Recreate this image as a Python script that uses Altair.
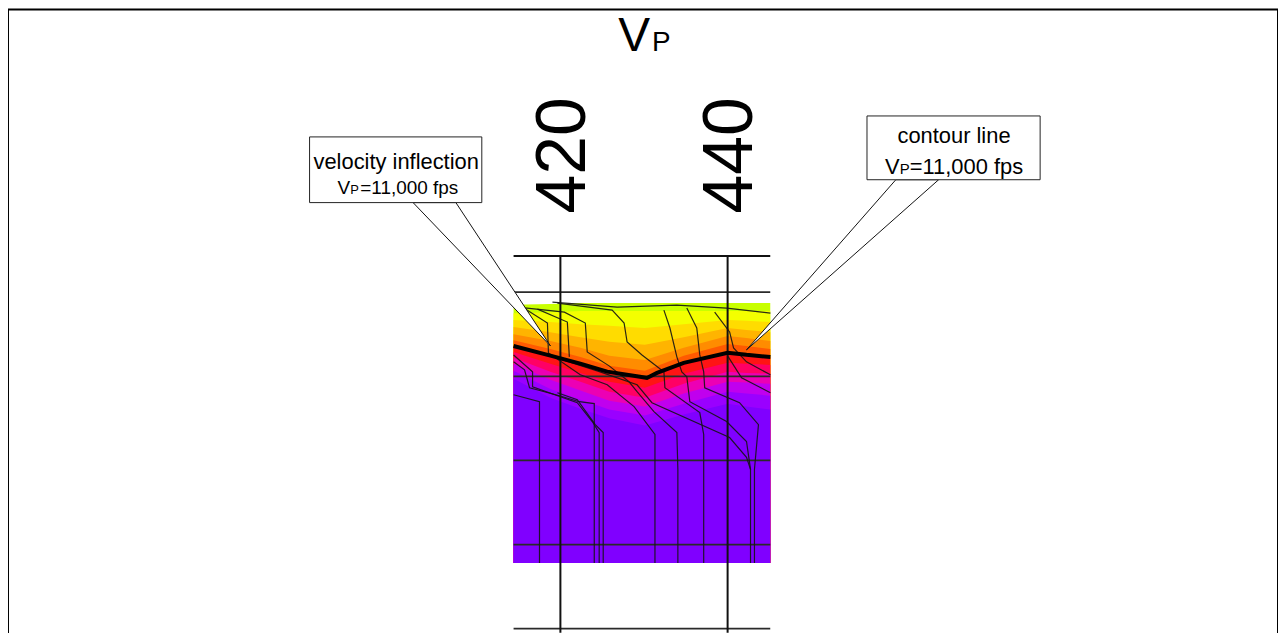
import altair as alt
import pandas as pd

# ------------------------------------------------------------------
# Data: cross-section, x = station, y = elevation (ft)
# ------------------------------------------------------------------
STATION_TICKS = [420, 440]
FRAME_TOP = 1294.3
GRID_ELEVATIONS = [1290, 1280, 1270, 1260, 1250]
SECTION_LEFT, SECTION_RIGHT = 414.4, 445.1
SECTION_BOTTOM = 1249.5

# velocity field: colour-band boundaries sampled at these stations
FIELD_X = [414.4, 418.8, 422.4, 425.85, 430.1, 434.75, 440.0, 442.25, 445.1]
FIELD_BOTTOM = 1257.8
SURFACE = [1288.5, 1288.6, 1288.7, 1288.7, 1288.7, 1288.7, 1288.7, 1288.7, 1288.7]
B1 = [1287.5, 1287.6, 1287.75, 1287.75, 1287.75, 1287.75, 1287.75, 1287.75, 1287.75]
B2 = [1286.7, 1286.45, 1286.2, 1286.0, 1285.75, 1286.2, 1286.7, 1286.6, 1286.45]
B3 = [1285.85, 1285.25, 1284.65, 1284.1, 1283.75, 1284.65, 1285.75, 1285.5, 1285.25]
B4 = [1285.0, 1284.2, 1283.4, 1282.45, 1281.95, 1283.4, 1284.8, 1284.55, 1284.2]
B5 = [1284.3, 1283.25, 1282.3, 1281.25, 1280.65, 1282.45, 1283.85, 1283.6, 1283.25]
V11 = [1283.6, 1282.45, 1281.5, 1280.55, 1279.8, 1281.6, 1282.8, 1282.55, 1282.3]
E1 = [1282.9, 1281.5, 1280.4, 1279.35, 1278.65, 1280.3, 1281.6, 1281.5, 1281.35]
E2 = [1282.2, 1280.55, 1279.35, 1278.15, 1277.45, 1279.1, 1280.55, 1280.4, 1280.3]
E3 = [1281.5, 1279.6, 1278.3, 1277.1, 1276.4, 1277.95, 1279.35, 1279.25, 1279.1]
E4 = [1280.65, 1278.5, 1277.2, 1276.05, 1275.35, 1276.75, 1278.15, 1277.95, 1277.7]
E5 = [1279.7, 1277.45, 1276.15, 1275.0, 1274.15, 1275.45, 1276.75, 1276.4, 1276.05]
BAND_TOPS = [SURFACE, B1, B2, B3, B4, B5, V11, E1, E2, E3, E4, E5]
BAND_COLORS = ["#c8ff00", "#f4ff00", "#ffdc00", "#ffb400", "#ff8c00", "#ff5a00",
               "#ff1414", "#ff0064", "#ec00b4", "#c000ee", "#9a00ff", "#8000ff"]

# 11,000 fps contour
CONTOUR_X = [414.4, 418.81, 422.38, 425.6, 429.52, 430.35, 431.55, 434.75, 440.0, 442.26, 445.12]
CONTOUR_Y = [1283.6, 1282.45, 1281.5, 1280.55, 1279.95, 1279.8, 1280.4, 1281.6, 1282.8, 1282.55, 1282.3]

# thin contour lines
THIN_LINES = {
    "L1": ([419.05, 426.79, 433.93, 439.88, 445.12],
           [1288.82, 1288.22, 1288.46, 1288.11, 1287.51]),
    "U2": ([417.26, 420.83, 421.07], [1287.99, 1286.45, 1282.31]),
    "R1": ([419.64, 426.19, 427.62, 427.98, 429.76, 432.38, 432.50, 436.67, 437.14, 437.14],
           [1288.70, 1287.87, 1286.33, 1284.08, 1282.54, 1280.53, 1278.64, 1275.68, 1273.08, 1257.81]),
    "R2": ([432.38, 433.10, 433.93, 434.52, 435.12, 435.48, 439.88, 442.26, 442.74, 442.74],
           [1287.87, 1285.74, 1282.31, 1280.53, 1279.94, 1276.98, 1274.62, 1272.25, 1268.93, 1257.81]),
    "R3": ([435.12, 436.31, 436.67, 437.14, 437.26, 441.43, 443.69, 443.21, 443.21],
           [1288.11, 1285.74, 1282.54, 1280.53, 1278.64, 1276.86, 1274.26, 1268.93, 1257.81]),
    "R4": ([438.45, 440.24, 440.71, 442.26, 445.12],
           [1287.63, 1285.27, 1283.37, 1281.72, 1280.18]),
    "R5": ([440.00, 441.67, 445.12], [1282.43, 1279.82, 1278.05]),
    "R6": ([414.88, 420.48, 422.98, 423.21, 425.83, 428.21, 429.17, 431.19, 433.93, 434.05, 434.05],
           [1288.22, 1287.63, 1286.33, 1282.90, 1281.24, 1279.35, 1278.17, 1275.80, 1273.31, 1268.93, 1257.81]),
    "R7": ([415.48, 418.45, 418.57, 422.38, 425.60, 428.81, 431.31, 431.31],
           [1288.22, 1286.33, 1282.78, 1280.18, 1278.99, 1276.39, 1273.08, 1257.81]),
    "R8": ([418.81, 424.40, 429.17, 430.95, 440.24, 442.26, 442.74],
           [1282.43, 1280.65, 1278.99, 1276.86, 1272.72, 1270.36, 1268.93]),
    "LA": ([414.40, 415.71, 416.31, 419.88, 422.26, 424.05, 424.05],
           [1281.72, 1280.77, 1278.64, 1277.69, 1276.98, 1276.75, 1257.81]),
    "LB": ([414.40, 416.67, 416.67, 422.02, 423.81, 424.64, 424.64],
           [1282.54, 1280.53, 1278.76, 1276.86, 1274.62, 1273.31, 1257.81]),
    "LC": ([414.40, 417.50, 417.50], [1277.81, 1276.98, 1257.81]),
    "LD": ([419.64, 422.02, 424.17, 425.12, 425.12],
           [1278.05, 1277.22, 1274.26, 1273.31, 1257.81]),
}

# texts
TITLE_MAIN, TITLE_SUB = "V", "P"
LEFT_NOTE = ["velocity inflection", "V", "P", "=11,000 fps"]
RIGHT_NOTE = ["contour line", "V", "P", "=11,000 fps"]

# ------------------------------------------------------------------
# Scales (page mapping)
# ------------------------------------------------------------------
xs = alt.Scale(domain=[353.93, 505.83], nice=False, zero=False)
ys = alt.Scale(domain=[1249.3, 1323.61], nice=False, zero=False)
FONT = "Liberation Sans, Arial, sans-serif"


def X(f="x"):
    return alt.X(f"{f}:Q", scale=xs, axis=None)


def Y(f="y"):
    return alt.Y(f"{f}:Q", scale=ys, axis=None, stack=None)


layers = []

# velocity colour bands
for upper, col in zip(BAND_TOPS, BAND_COLORS):
    df = pd.DataFrame({"x": FIELD_X, "y": upper, "y2": FIELD_BOTTOM})
    layers.append(alt.Chart(df).mark_area(color=col, opacity=1)
                  .encode(x=X(), y=Y(), y2=alt.Y2("y2")))

# horizontal lines
frame_df = pd.DataFrame({"y": [FRAME_TOP], "x": SECTION_LEFT, "x2": SECTION_RIGHT})
layers.append(alt.Chart(frame_df).mark_rule(color="#111111", strokeWidth=2)
              .encode(x=X(), x2=alt.X2("x2"), y=Y()))
grid_df = pd.DataFrame({"y": GRID_ELEVATIONS, "x": SECTION_LEFT, "x2": SECTION_RIGHT})
layers.append(alt.Chart(grid_df).mark_rule(color="#2a2a2a", strokeWidth=1.8)
              .encode(x=X(), x2=alt.X2("x2"), y=Y()))

# station lines
st_df = pd.DataFrame({"x": STATION_TICKS, "y": FRAME_TOP, "y2": SECTION_BOTTOM})
layers.append(alt.Chart(st_df).mark_rule(color="#111111", strokeWidth=2)
              .encode(x=X(), y=Y(), y2=alt.Y2("y2")))

# thin contour lines
rows = []
for name, (lx, ly) in THIN_LINES.items():
    for i, (a, b) in enumerate(zip(lx, ly)):
        rows.append({"line": name, "order": i, "x": a, "y": b})
thin_df = pd.DataFrame(rows)
layers.append(alt.Chart(thin_df).mark_line(color="#141414", strokeWidth=1.2, opacity=0.9)
              .encode(x=X(), y=Y(), detail="line:N", order="order:Q"))

# 11,000 fps contour
c_df = pd.DataFrame({"x": CONTOUR_X, "y": CONTOUR_Y, "o": range(len(CONTOUR_X))})
layers.append(alt.Chart(c_df).mark_line(color="black", strokeWidth=4)
              .encode(x=X(), y=Y(), order="o:Q"))

# callout wedges
for top_y, xa, xb, tip_x, tip_y in [(1300.65, 402.38, 407.5, 418.81, 1283.61),
                                    (1303.37, 460.12, 465.24, 442.26, 1283.14)]:
    wdf = pd.DataFrame({"y": [top_y, tip_y], "x": [xa, tip_x], "x2": [xb, tip_x]})
    layers.append(alt.Chart(wdf).mark_area(orient="horizontal", fill="white",
                                           stroke="#111111", strokeWidth=1)
                  .encode(y=Y(), x=X(), x2=alt.X2("x2")))

# callout boxes
box_df = pd.DataFrame({"x": [390.0, 456.67], "x2": [410.6, 477.38],
                       "y": [1300.65, 1303.37], "y2": [1308.46, 1310.95]})
layers.append(alt.Chart(box_df).mark_rect(fill="white", stroke="#222222", strokeWidth=1)
              .encode(x=X(), x2=alt.X2("x2"), y=Y(), y2=alt.Y2("y2")))


def text_layer(txt, x, y, size, align="center", angle=None, dy=None,
               baseline="alphabetic"):
    df = pd.DataFrame({"x": [x], "y": [y], "t": [txt]})
    mk = dict(align=align, baseline=baseline, font=FONT, fontSize=size, color="black")
    if angle is not None:
        mk["angle"] = angle
    if dy is not None:
        mk["dy"] = dy
    return alt.Chart(df).mark_text(**mk).encode(x=X(), y=Y(), text="t:N")


# station labels
for t in STATION_TICKS:
    layers.append(text_layer(str(t), t, 1299.35, 70, align="left", angle=270,
                             dy=4, baseline="middle"))

# title V_P
layers.append(text_layer(TITLE_MAIN, 428.81, 1318.64, 48))
layers.append(text_layer(TITLE_SUB, 430.95, 1318.64, 28, align="left"))

# left note
layers.append(text_layer(LEFT_NOTE[0], 400.36, 1304.67, 22))
layers.append(text_layer(LEFT_NOTE[1], 393.33, 1301.72, 19, align="left"))
layers.append(text_layer(LEFT_NOTE[2], 394.88, 1301.72, 13, align="left"))
layers.append(text_layer(LEFT_NOTE[3], 396.07, 1301.72, 19, align="left"))

# right note
layers.append(text_layer(RIGHT_NOTE[0], 467.08, 1307.75, 22))
layers.append(text_layer(RIGHT_NOTE[1], 458.81, 1304.08, 22, align="left"))
layers.append(text_layer(RIGHT_NOTE[2], 460.60, 1304.08, 15, align="left"))
layers.append(text_layer(RIGHT_NOTE[3], 461.79, 1304.08, 22, align="left"))

chart = alt.layer(*layers).properties(
    width=1276, height=628, padding=0, autosize="none"
).configure_view(stroke="black", strokeWidth=2)

chart.save("out.html", embed_options={"renderer": "svg", "actions": False})
